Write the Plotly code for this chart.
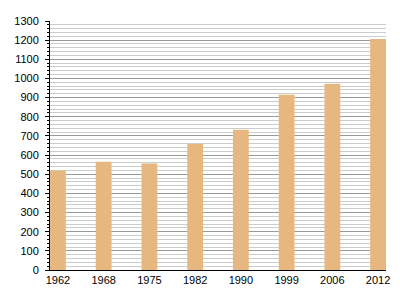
import plotly.graph_objects as go

years = ["1962", "1968", "1975", "1982", "1990", "1999", "2006", "2012"]
values = [520, 565, 556, 658, 732, 915, 972, 1206]
positions = list(range(len(years)))
y_ticks = list(range(0, 1301, 100))

fig = go.Figure(go.Bar(
    x=positions, y=values, width=0.346,
    marker=dict(color="#E6B87F", line=dict(width=0)),
))

fig.update_layout(
    width=400, height=300,
    margin=dict(l=50, r=10, t=21, b=30),
    paper_bgcolor="white", plot_bgcolor="white",
    font=dict(family="Liberation Sans, Arial, sans-serif", size=11, color="black"),
    showlegend=False,
)
fig.update_xaxes(
    range=[-0.173, 7.173], tickmode="array", tickvals=positions, ticktext=years,
    showgrid=False, showline=True, linecolor="black", linewidth=1,
    ticks="", zeroline=False,
)
fig.update_yaxes(
    range=[0, 1300], tickmode="array", tickvals=y_ticks,
    showgrid=True, gridcolor="#9a9a9a", gridwidth=1,
    showline=True, linecolor="black", linewidth=1,
    ticks="outside", ticklen=4, tickcolor="black", zeroline=False,
    ticklabelstandoff=4,
    minor=dict(dtick=20, showgrid=True, gridcolor="#cccccc", gridwidth=1,
               ticks="outside", ticklen=2, tickcolor="black"),
)

fig.write_html("out.html")
